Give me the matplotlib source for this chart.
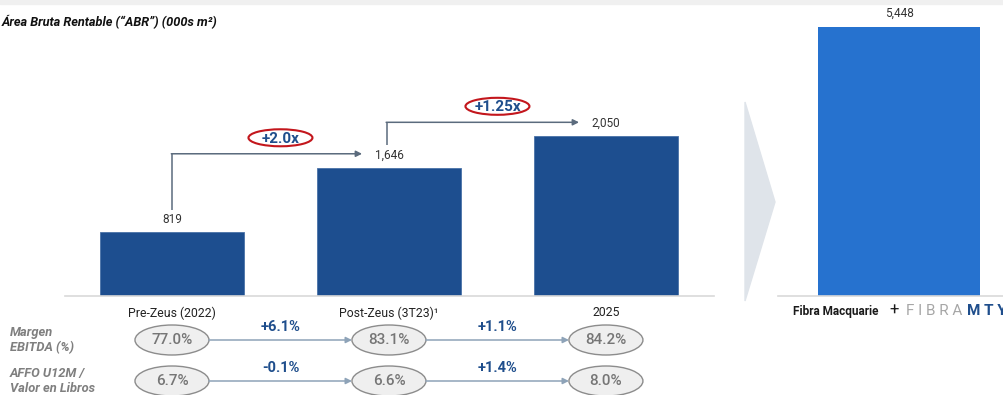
import matplotlib.pyplot as plt
import matplotlib.transforms as mtransforms
from matplotlib.patches import Ellipse, Polygon, Rectangle

plt.rcParams['font.family'] = ['Roboto', 'DejaVu Sans']

# area data (000s m2)
categories = ['Pre-Zeus (2022)', 'Post-Zeus (3T23)\u00b9', '2025']
abr = [819, 1646, 2050]
growth = ['+2.0x', '+1.25x']
combined_label = 'Fibra Macquarie'
combined_abr = 5448

# table rows
row_names = ['Margen\nEBITDA (%)', 'AFFO U12M /\nValor en Libros']
ebitda = [77.0, 83.1, 84.2]
affo = [6.7, 6.6, 8.0]

W, H = 1004, 395
navy = '#1d4e8f'
bright = '#2672cf'
text_blue = '#1f4e8c'
grey_txt = '#333333'

fig = plt.figure(figsize=(W / 100, H / 100), dpi=100)


def fx(px):
    return px / W


def fy(py):
    # py measured from the top edge
    return 1 - py / H


# thin grey band on top
fig.patches.append(Rectangle((0, fy(4)), 1, 4 / H, transform=fig.transFigure,
                             color='#f0f0f0', zorder=0))

# left chart
ymax = 3000
ax_h = 233.7
ax = fig.add_axes([fx(65), fy(296), fx(649), ax_h / H])
x = list(range(len(abr)))
ax.bar(x, abr, width=0.667, color=navy, edgecolor='#4a72a8', linewidth=0.6, zorder=2)
ax.set_xlim(-0.493, 2.498)
ax.set_ylim(0, ymax)
for s in ['top', 'right', 'left']:
    ax.spines[s].set_visible(False)
ax.spines['bottom'].set_color('#d9d9d9')
ax.spines['bottom'].set_linewidth(1.2)
ax.set_yticks([])
ax.set_xticks(x)
ax.set_xticklabels(categories, fontsize=8.8, color='#222222')
ax.tick_params(axis='x', length=0, pad=7.5)

k = ymax / ax_h  # data units per pixel
for i, v in enumerate(abr):
    ax.text(i, v + 13 * k, f'{v:,}', ha='center', va='center', fontsize=8.5, color=grey_txt)

# growth arrows between bars
arrow_col = '#5b6b7d'
starts = [(0, abr[0] + 22 * k, 0.0), (1, abr[1] + 23 * k, -0.01)]
for j, (i, y0, dx) in enumerate(starts):
    y1 = abr[i + 1] + 14 * k
    ax.plot([i + dx, i + dx], [y0, y1], color=arrow_col, lw=1.1, solid_capstyle='butt')
    ax.annotate('', xy=(i + 1 - 0.124, y1), xytext=(i + dx - 0.003, y1),
                arrowprops=dict(arrowstyle='-|>', color=arrow_col, lw=1.1,
                                mutation_scale=9, shrinkA=0, shrinkB=0))
    xm = i + 0.5
    ym = y1 + 15 * k
    ax.text(xm, ym, growth[j], ha='center', va='center', fontsize=11,
            fontweight='bold', color=text_blue)
    ax.add_patch(Ellipse((xm, ym + 1 * k), 64 / 217, 17 * k, fill=False,
                         edgecolor='#c3161c', lw=1.5))

# chevron between the two charts
fig.patches.append(Polygon([(fx(745), fy(102)), (fx(775), fy(202)), (fx(745), fy(301))],
                           closed=True, transform=fig.transFigure,
                           color='#dfe4ea', zorder=0))

# right chart
ymax2 = 5800
ax2 = fig.add_axes([fx(778), fy(296), fx(226), ymax2 * 0.04943 / H])
ax2.bar([0], [combined_abr], width=1.0, color=bright, zorder=2)
ax2.set_xlim(-0.747, 0.648)
ax2.set_ylim(0, ymax2)
for s in ['top', 'right', 'left']:
    ax2.spines[s].set_visible(False)
ax2.spines['bottom'].set_color('#d9d9d9')
ax2.spines['bottom'].set_linewidth(1.2)
ax2.set_yticks([])
ax2.set_xticks([])
k2 = 1 / 0.04943
ax2.text(0, combined_abr + 13 * k2, f'{combined_abr:,}', ha='center', va='center',
         fontsize=8.5, color=grey_txt)

# brand line under the combined bar
fig.text(fx(793), fy(311), combined_label, ha='left', va='center', fontsize=8.5,
         fontweight='bold', color='#1a1a1a')
fig.text(fx(894), fy(310), '+', ha='center', va='center', fontsize=12,
         color='#1a1a1a')
fig.text(fx(906), fy(311), 'F I B R A', ha='left', va='center', fontsize=11,
         color='#a6a6a6')
fig.text(fx(967), fy(311), 'M T Y', ha='left', va='center', fontsize=11,
         fontweight='bold', color=text_blue)

# title
fig.text(fx(2), fy(22), '\u00c1rea Bruta Rentable (\u201cABR\u201d) (000s m\u00b2)',
         ha='left', va='center', fontsize=9.2, fontweight='bold', style='italic',
         color='#111111')

# table below the axis
tr = mtransforms.blended_transform_factory(ax.transData, fig.transFigure)
rows = [(ebitda, 340), (affo, 381)]
ell_w = 74 / 217
line_col = '#8ea3b8'
for (vals, py), name in zip(rows, row_names):
    fig.text(fx(10), fy(py), name, ha='left', va='center', fontsize=9.3,
             fontweight='bold', style='italic', color='#7f7f7f', linespacing=1.15)
    for i, v in enumerate(vals):
        ax.add_patch(Ellipse((i, fy(py)), ell_w, 30 / H, transform=tr, clip_on=False,
                             facecolor='#efefef', edgecolor='#8c8c8c', lw=1.0, zorder=3))
        ax.text(i, fy(py), f'{v:.1f}%', transform=tr, ha='center', va='center',
                fontsize=11, fontweight='medium', color='#767676', zorder=4,
                clip_on=False)
    for i in range(len(vals) - 1):
        d = vals[i + 1] - vals[i]
        ax.annotate('', xy=(i + 1 - ell_w / 2, fy(py)), xytext=(i + ell_w / 2, fy(py)),
                    xycoords=tr, textcoords=tr, annotation_clip=False,
                    arrowprops=dict(arrowstyle='-|>', color=line_col, lw=1.1,
                                    mutation_scale=9, shrinkA=0, shrinkB=0))
        ax.text(i + 0.5, fy(py - 13), f'{d:+.1f}%', transform=tr, ha='center',
                va='center', fontsize=10.5, fontweight='bold', color=text_blue,
                clip_on=False)

fig.savefig('out.png', dpi=100)
